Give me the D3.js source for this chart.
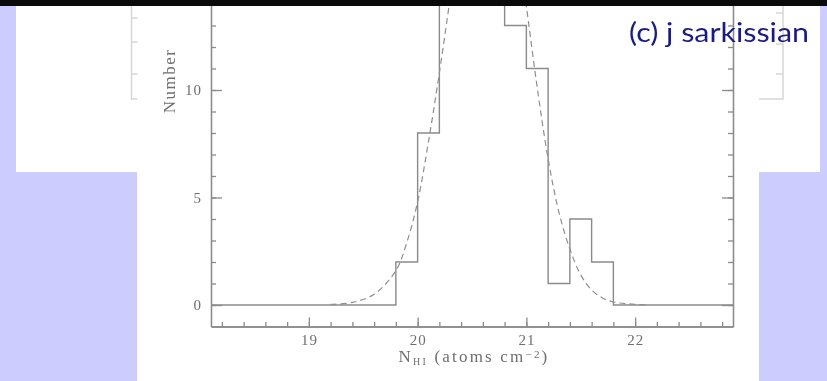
<!DOCTYPE html>
<html>
<head>
<meta charset="utf-8">
<script src="https://cdn.jsdelivr.net/npm/d3@7"></script>
<style>
  body { margin: 0; background: #ccccff; }
  svg { display: block; }
</style>
</head>
<body>
<div id="chart"></div>
<script>
// histogram of N_HI, bins 0.2 wide (the outer 0 bins run to the frame)
const binEdges = [18.1, 19.8, 20.0, 20.2, 20.4, 20.6, 20.8, 21.0, 21.2, 21.4, 21.6, 21.8, 22.9];
const counts = [0, 2, 8, 17, 22, 19, 13, 11, 1, 4, 2, 0];

// dashed gaussian fit
const fitX = [19.2, 19.4, 19.6, 19.8, 19.9, 20.0, 20.1, 20.2, 20.3, 20.4, 20.5, 20.6, 20.7, 20.8, 20.9, 21.0, 21.1, 21.2, 21.3, 21.4, 21.5, 21.6, 21.7, 21.8, 22.0, 22.1];
const fitY = [0.03, 0.12, 0.5, 1.6, 2.9, 4.8, 7.6, 10.8, 14.3, 17.8, 20.8, 22.4, 22.5, 20.6, 17.6, 13.9, 10.1, 6.8, 4.3, 2.6, 1.4, 0.7, 0.33, 0.14, 0.03, 0.01];

const xMajor = [19, 20, 21, 22];
const yMajor = [0, 5, 10];

const width = 827;
const height = 381;
const ink = "#8a8a8a";
const serif = "'Liberation Serif', 'DejaVu Serif', serif";

const svg = d3
  .select("#chart")
  .append("svg")
  .attr("width", width)
  .attr("height", height);

svg.append("rect").attr("width", width).attr("height", height).attr("fill", "#ccccff");
// page panels
svg.append("rect").attr("x", 16).attr("y", 6).attr("width", 804).attr("height", 166).attr("fill", "#fff");
svg.append("rect").attr("x", 137).attr("y", 6).attr("width", 622).attr("height", 375).attr("fill", "#fff");

svg
  .append("defs")
  .append("filter")
  .attr("id", "soft")
  .append("feGaussianBlur")
  .attr("stdDeviation", 0.55);

// faded pieces of the neighbouring slides
const ghost = svg
  .append("g")
  .attr("fill", "none")
  .attr("stroke", "#d6d6d6")
  .attr("stroke-width", 1.5)
  .attr("filter", "url(#soft)");
ghost.append("path").attr("d", "M131.5,6V100");
[18, 42, 74, 99].forEach((v) => ghost.append("path").attr("d", `M131.5,${v}h6`));
ghost.append("path").attr("d", "M783,6V99H759");
[13, 44, 74].forEach((v) => ghost.append("path").attr("d", `M783,${v}h-7`));

const x = d3.scaleLinear().domain([18.1, 22.9]).range([211, 733]);
// top of the frame is cut off by the page, so the scale stops at the window edge
const y = d3.scaleLinear().domain([-1, 14.5]).range([326.5, 326.5 - 15.5 * 21.5]);

const plot = svg.append("g").attr("filter", "url(#soft)");

function styleAxis(g) {
  g.selectAll("line, path").attr("stroke", ink).attr("stroke-width", 1.3);
  g.selectAll("text")
    .attr("fill", "#6f6f6f")
    .style("font-family", serif)
    .style("font-size", "15px")
    .style("letter-spacing", "1px");
}

//left axis
plot
  .append("g")
  .attr("transform", `translate(${x.range()[0]},0)`)
  .call(d3.axisLeft(y).tickValues(yMajor).tickSize(-11).tickSizeOuter(0).tickPadding(9))
  .call(styleAxis);
plot
  .append("g")
  .attr("transform", `translate(${x.range()[0]},0)`)
  .call(d3.axisLeft(y).tickValues(d3.range(0, 15)).tickSize(-5).tickSizeOuter(0).tickFormat(""))
  .call(styleAxis);

//right axis
plot
  .append("g")
  .attr("transform", `translate(${x.range()[1]},0)`)
  .call(d3.axisRight(y).tickValues(yMajor).tickSize(-11).tickSizeOuter(0).tickFormat(""))
  .call(styleAxis);
plot
  .append("g")
  .attr("transform", `translate(${x.range()[1]},0)`)
  .call(d3.axisRight(y).tickValues(d3.range(0, 15)).tickSize(-5).tickSizeOuter(0).tickFormat(""))
  .call(styleAxis);

//bottom axis
plot
  .append("g")
  .attr("transform", `translate(0,${y(-1)})`)
  .call(d3.axisBottom(x).tickValues(xMajor).tickSize(-9).tickSizeOuter(0).tickPadding(8).tickFormat(d3.format("d")))
  .call(styleAxis);
plot
  .append("g")
  .attr("transform", `translate(0,${y(-1)})`)
  .call(d3.axisBottom(x).tickValues(d3.range(18.2, 22.85, 0.2)).tickSize(-4.5).tickSizeOuter(0).tickFormat(""))
  .call(styleAxis);

// histogram outline
const steps = binEdges.map((e, i) => [e, i < counts.length ? counts[i] : 0]);
plot
  .append("path")
  .datum(steps)
  .attr("fill", "none")
  .attr("stroke", ink)
  .attr("stroke-width", 1.4)
  .attr(
    "d",
    d3
      .line()
      .x((d) => x(d[0]))
      .y((d) => y(d[1]))
      .curve(d3.curveStepAfter),
  );

// gaussian fit
plot
  .append("path")
  .datum(fitX.map((v, i) => [v, fitY[i]]))
  .attr("fill", "none")
  .attr("stroke", "#8f8f8f")
  .attr("stroke-width", 1.2)
  .attr("stroke-dasharray", "6,4")
  .attr(
    "d",
    d3
      .line()
      .x((d) => x(d[0]))
      .y((d) => y(d[1]))
      .curve(d3.curveCatmullRom),
  );

plot
  .append("text")
  .text("Number")
  .attr("transform", "rotate(-90)")
  .attr("x", -81)
  .attr("y", 175)
  .attr("text-anchor", "middle")
  .attr("fill", "#6f6f6f")
  .style("font-family", serif)
  .style("font-size", "17px")
  .style("letter-spacing", "1.5px");

const xLabel = plot
  .append("text")
  .attr("x", (x.range()[0] + x.range()[1]) / 2 + 2)
  .attr("y", 362)
  .attr("text-anchor", "middle")
  .attr("fill", "#6f6f6f")
  .style("font-family", serif)
  .style("font-size", "17px")
  .style("letter-spacing", "2.2px");
xLabel.append("tspan").text("N");
xLabel.append("tspan").text("HI").attr("dy", 3).style("font-size", "10px");
xLabel.append("tspan").text(" (atoms cm").attr("dy", -3);
xLabel.append("tspan").text("\u22122").attr("dy", -4).style("font-size", "11px");
xLabel.append("tspan").text(")").attr("dy", 4);

svg
  .append("text")
  .text("(c) j sarkissian")
  .attr("x", 629)
  .attr("y", 41.5)
  .attr("textLength", 180)
  .attr("lengthAdjust", "spacingAndGlyphs")
  .attr("fill", "#1c1c80")
  .style("font-family", "'Comic Sans MS', Lato, sans-serif")
  .style("font-size", "27px");

svg.append("rect").attr("width", width).attr("height", 6).attr("fill", "#0a0a0a");
</script>
</body>
</html>
